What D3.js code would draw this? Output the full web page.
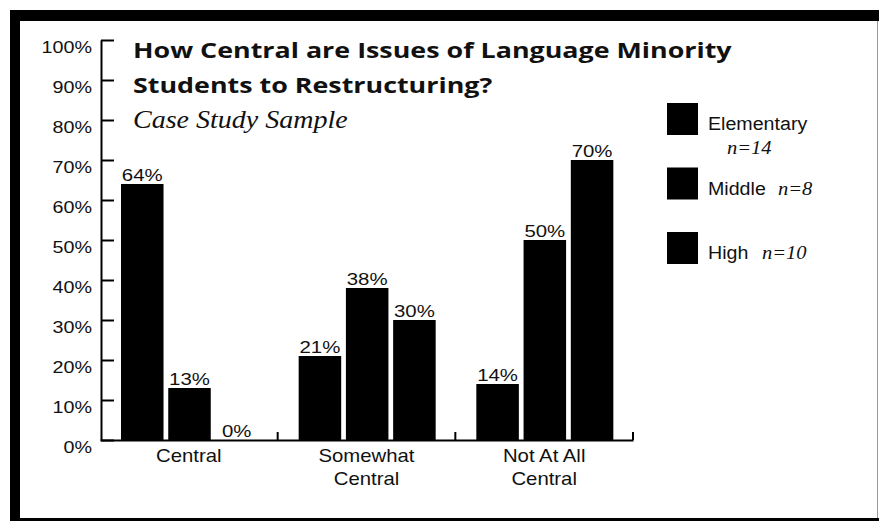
<!DOCTYPE html>
<html>
<head>
<meta charset="utf-8">
<script src="https://cdn.jsdelivr.net/npm/d3@7/dist/d3.min.js"></script>
<style>
  body { margin: 0; background: #fff; }
  svg { display: block; }
  .tick-label { font-family: "Liberation Sans", Arial, sans-serif; font-size: 17px; fill: #111; }
  .cat-label { font-family: "Liberation Sans", Arial, sans-serif; font-size: 19px; fill: #111; }
  .value-label { font-family: "Liberation Sans", Arial, sans-serif; font-size: 17px; fill: #111; }
  .legend-label { font-family: "Liberation Sans", Arial, sans-serif; font-size: 18px; fill: #111; }
  .legend-n { font-family: "Liberation Serif", serif; font-style: italic; font-size: 19px; fill: #111; }
</style>
</head>
<body>
<div id="chart"></div>
<script>
// categories along the x axis (line breaks as in the original)
const categories = ["Central", "Somewhat Central", "Not At All Central"];
const categoryLines = [["Central"], ["Somewhat", "Central"], ["Not At All", "Central"]];

// school levels and their sample sizes
const levels = ["Elementary", "Middle", "High"];
const levelN = ["n=14", "n=8", "n=10"];

// percentages per level, in category order
const elementary = [64, 21, 14];
const middle = [13, 38, 50];
const high = [0, 30, 70];

const yTicks = [0, 10, 20, 30, 40, 50, 60, 70, 80, 90, 100];

const titleLines = ["How Central are Issues of Language Minority", "Students to Restructuring?"];
const subtitle = "Case Study Sample";

const width = 879, height = 524;

// the scan is a bit wider than normal type, so stretch text sideways
function stretch(sel, k) {
    sel.each(function () {
        const w = this.getComputedTextLength();
        d3.select(this)
            .attr("textLength", w * k)
            .attr("lengthAdjust", "spacingAndGlyphs");
    });
}

const svg = d3.select("#chart")
    .append("svg")
    .attr("width", width)
    .attr("height", height);

// scanned page frame
svg.append("rect").attr("x", 10).attr("y", 10).attr("width", 869).attr("height", 11).attr("fill", "#000");
svg.append("rect").attr("x", 10).attr("y", 10).attr("width", 10).attr("height", 511).attr("fill", "#000");
svg.append("rect").attr("x", 10).attr("y", 518).attr("width", 869).attr("height", 3).attr("fill", "#000");
svg.append("line").attr("x1", 877.5).attr("x2", 877.5).attr("y1", 21).attr("y2", 518)
    .attr("stroke", "#999").attr("stroke-width", 1);

// scales
const x0 = d3.scaleBand()
    .domain(categories)
    .range([100, 633])
    .padding(0);

const x1 = d3.scaleBand()
    .domain(levels)
    .range([21, 158])
    .paddingInner(0.1);

const y = d3.scaleLinear()
    .domain([0, 100])
    .range([440, 40]);

const rows = categories.map((c, i) => ({
    category: c,
    values: [
        { level: "Elementary", value: elementary[i] },
        { level: "Middle", value: middle[i] },
        { level: "High", value: high[i] }
    ]
}));

// y axis, ticks point into the plot
const yAxis = svg.append("g")
    .attr("transform", "translate(101,0)")
    .call(d3.axisLeft(y).tickValues(yTicks).tickFormat(d => d + "%")
        .tickSize(-13).tickSizeOuter(0).tickPadding(9));
yAxis.select(".domain").attr("stroke", "#000").attr("stroke-width", 2);
yAxis.selectAll(".tick line").attr("stroke", "#000").attr("stroke-width", 2);
yAxis.selectAll(".tick text")
    .attr("class", "tick-label")
    .attr("font-size", null)
    .attr("font-family", null)
    .attr("dy", "0.72em")
    .call(stretch, 1.16);

// bars
const groups = svg.selectAll(".group")
    .data(rows)
    .enter()
    .append("g")
    .attr("transform", d => `translate(${x0(d.category)},0)`);

groups.selectAll("rect")
    .data(d => d.values)
    .enter()
    .append("rect")
    .attr("x", d => x1(d.level))
    .attr("y", d => y(d.value))
    .attr("width", x1.bandwidth())
    .attr("height", d => y(0) - y(d.value))
    .attr("fill", "#000");

groups.selectAll(".value-label")
    .data(d => d.values)
    .enter()
    .append("text")
    .attr("class", "value-label")
    .attr("x", d => x1(d.level) + x1.bandwidth() / 2)
    .attr("y", d => y(d.value) - 3)
    .attr("text-anchor", "middle")
    .text(d => d.value + "%")
    .call(stretch, 1.2);

// x axis baseline with boundary ticks between categories
const xAxis = svg.append("g")
    .attr("transform", `translate(0,${y(0)})`)
    .call(d3.axisBottom(x0).tickSize(0).tickSizeOuter(0).tickFormat(""));
xAxis.select(".domain").attr("stroke", "#000").attr("stroke-width", 2);

xAxis.selectAll(".boundary")
    .data(categories)
    .enter()
    .append("line")
    .attr("x1", d => x0(d) + x0.bandwidth())
    .attr("x2", d => x0(d) + x0.bandwidth())
    .attr("y1", -8)
    .attr("y2", 0)
    .attr("stroke", "#000")
    .attr("stroke-width", 2);

xAxis.selectAll(".tick").each(function (d, i) {
    const tick = d3.select(this);
    categoryLines[i].forEach((line, j) => {
        tick.append("text")
            .attr("class", "cat-label")
            .attr("text-anchor", "middle")
            .attr("x", 0)
            .attr("y", 22 + j * 23)
            .text(line)
            .call(stretch, 1.07);
    });
});

// title block
svg.selectAll(".title")
    .data(titleLines)
    .enter()
    .append("text")
    .attr("x", 133)
    .attr("y", (d, i) => 58 + i * 35)
    .attr("font-family", "'Open Sans', sans-serif")
    .attr("font-weight", 700)
    .attr("font-size", 22)
    .attr("fill", "#111")
    .text(d => d)
    .call(stretch, 1.22);

svg.append("text")
    .attr("x", 133)
    .attr("y", 128)
    .attr("font-family", "'Liberation Serif', serif")
    .attr("font-style", "italic")
    .attr("font-size", 25)
    .attr("fill", "#111")
    .text(subtitle)
    .call(stretch, 1.12);

// legend
const legend = svg.selectAll(".legend")
    .data(levels)
    .enter()
    .append("g")
    .attr("transform", (d, i) => `translate(667,${103 + i * 64.5})`);

legend.append("rect")
    .attr("width", 31)
    .attr("height", 32)
    .attr("fill", "#000");

legend.append("text")
    .attr("class", "legend-label")
    .attr("x", 41)
    .attr("y", 27)
    .text(d => d)
    .call(stretch, 1.09);

legend.append("text")
    .attr("class", "legend-n")
    .attr("x", (d, i) => i === 0 ? 60 : (i === 1 ? 111 : 95))
    .attr("y", (d, i) => i === 0 ? 51 : 27)
    .text((d, i) => levelN[i])
    .call(stretch, 1.08);
</script>
</body>
</html>
